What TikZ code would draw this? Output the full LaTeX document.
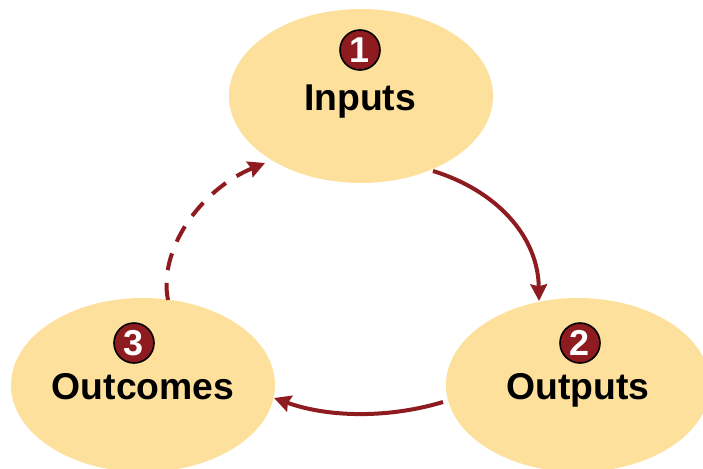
\documentclass[tikz,border=0pt]{standalone}
\usepackage{fontspec}
\setmainfont{Liberation Sans}
\usetikzlibrary{arrows.meta,shapes.geometric}
\definecolor{fillY}{HTML}{FDE09B}
\definecolor{wine}{HTML}{8E1B20}
\tikzset{
  stage/.style={ellipse,fill=fillY,minimum width=198pt,minimum height=130.5pt,inner sep=0pt,outer sep=0pt},
  stagetext/.style={font=\bfseries\fontsize{28}{30}\selectfont,text=black,inner sep=0pt},
  badge/.style={circle,draw=black,line width=1.2pt,fill=wine,text=white,minimum size=30pt,inner sep=0pt,font=\bfseries\fontsize{27}{29}\selectfont},
  flow/.style={draw=wine,line width=3pt,-{Stealth[length=12.5pt,width=12.5pt,inset=1.5pt]}}
}
\begin{document}
\begin{tikzpicture}[x=0.75pt,y=-0.75pt]
\useasboundingbox (0,0) rectangle (703,468);
\clip (0,0) rectangle (703,468);
\node[stage] (inputs) at (361,96) {};
\node[stage] (outputs) at (578,385) {};
\node[stage] (outcomes) at (143,385) {};
\node[badge] (b1) at (360,50) {1};
\node[badge] (b2) at (580,343) {2};
\node[badge] (b3) at (134,343) {3};
\node[stagetext,anchor=base] (t1) at (360,110) {Inputs};
\node[stagetext,anchor=base] (t2) at (578,399) {Outputs};
\node[stagetext,anchor=base] (t3) at (143,399) {Outcomes};
\coordinate (s1) at (433,171);
\coordinate (e1) at (539,301);
\coordinate (s2) at (443,402);
\coordinate (e2) at (274,398);
\coordinate (s3) at (168,300);
\coordinate (e3) at (265,163);
\draw[flow] (s1) .. controls (495,190) and (538,235) .. (e1);
\draw[flow] (s2) .. controls (390,418) and (330,418) .. (e2);
\draw[flow,dash pattern=on 13pt off 9.5pt] (s3) .. controls (158,250) and (200,190) .. (e3);
\end{tikzpicture}
\end{document}
